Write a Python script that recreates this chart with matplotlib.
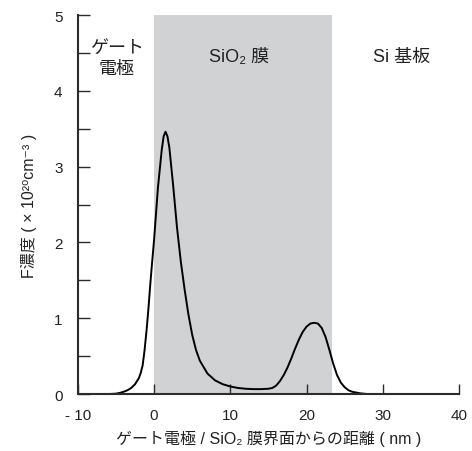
import matplotlib
matplotlib.use("Agg")
from matplotlib import pyplot as plt
from matplotlib.ticker import MultipleLocator

# F concentration profile across gate electrode / SiO2 / Si
x_nm = [-10, -6, -5, -4.5, -4, -3.5, -3, -2.5, -2, -1.75, -1.5, -1.25, -1, -0.75, -0.5, -0.25, 0, 0.5,
        1, 1.25, 1.5, 1.75, 2, 2.5, 3, 3.5, 4, 4.5, 5, 5.5, 6, 7, 8, 9,
        10, 11, 12, 13, 14, 15, 15.5, 16, 16.5, 17, 17.5, 18, 18.5, 19,
        19.5, 20, 20.5, 21, 21.5, 22, 22.5, 23, 23.5, 24, 24.5, 25, 25.5,
        26, 27, 28, 40]
f_conc = [0, 0, 0.005, 0.015, 0.03, 0.05, 0.08, 0.13, 0.21, 0.28, 0.38, 0.58, 0.83, 1.12, 1.45, 1.75, 2.04, 2.72,
          3.22, 3.40, 3.46, 3.40, 3.25, 2.75, 2.2, 1.75, 1.38, 1.05, 0.78, 0.58, 0.44, 0.27, 0.18, 0.13,
          0.10, 0.08, 0.07, 0.065, 0.065, 0.07, 0.08, 0.11, 0.17, 0.25, 0.35, 0.47, 0.60, 0.72,
          0.82, 0.89, 0.93, 0.94, 0.93, 0.87, 0.75, 0.58, 0.40, 0.25, 0.15, 0.09, 0.05,
          0.03, 0.01, 0, 0]

oxide_range = (0, 23.3)
x_ticks = [-10, 0, 10, 20, 30, 40]
x_tick_labels = ["- 10", "0", "10", "20", "30", "40"]
regions = [("ゲート\n電極", -4.9, 4.43), ("SiO₂ 膜", 11.2, 4.45), ("Si 基板", 32.4, 4.45)]

plt.rcParams["font.family"] = ["Liberation Sans", "Noto Sans CJK JP", "DejaVu Sans"]

fig = plt.figure(figsize=(4.72, 4.52), dpi=100)
ax = fig.add_axes([0.165, 0.126, 0.8075, 0.8386])

dark = "#2b2b2b"
ax.axvspan(oxide_range[0], oxide_range[1], color="#d1d2d4", lw=0, zorder=0)
ax.plot(x_nm, f_conc, color="black", lw=1.4, zorder=3)

for label, xpos, ypos in regions:
    ax.text(xpos, ypos, label, ha="center", va="center", fontsize=13,
            color="#222222", linespacing=1.2)

ax.set_xlim(-10, 40)
ax.set_ylim(0, 5)
ax.set_xticks(x_ticks)
ax.set_xticklabels(x_tick_labels)
ax.yaxis.set_major_locator(MultipleLocator(1))
ax.yaxis.set_minor_locator(MultipleLocator(0.5))

for side in ["top", "right"]:
    ax.spines[side].set_visible(False)
for side in ["left", "bottom"]:
    ax.spines[side].set_linewidth(1.5)
    ax.spines[side].set_color(dark)
    ax.spines[side].set_zorder(4)

ax.tick_params(axis="both", which="both", direction="in", color=dark,
               width=1.0, labelsize=11, labelcolor="#222222")
ax.tick_params(axis="y", which="both", length=8.5, pad=11)
ax.tick_params(axis="x", which="major", length=7.5, pad=10)

ax.set_xlabel("ゲート電極 / SiO₂ 膜界面からの距離 ( nm )", fontsize=11.5,
              color="#222222", labelpad=6)
ax.set_ylabel("F濃度 ( × 10²⁰cm⁻³ )", fontsize=11.5, color="#222222",
              labelpad=12)

fig.savefig("out.png", dpi=100)
